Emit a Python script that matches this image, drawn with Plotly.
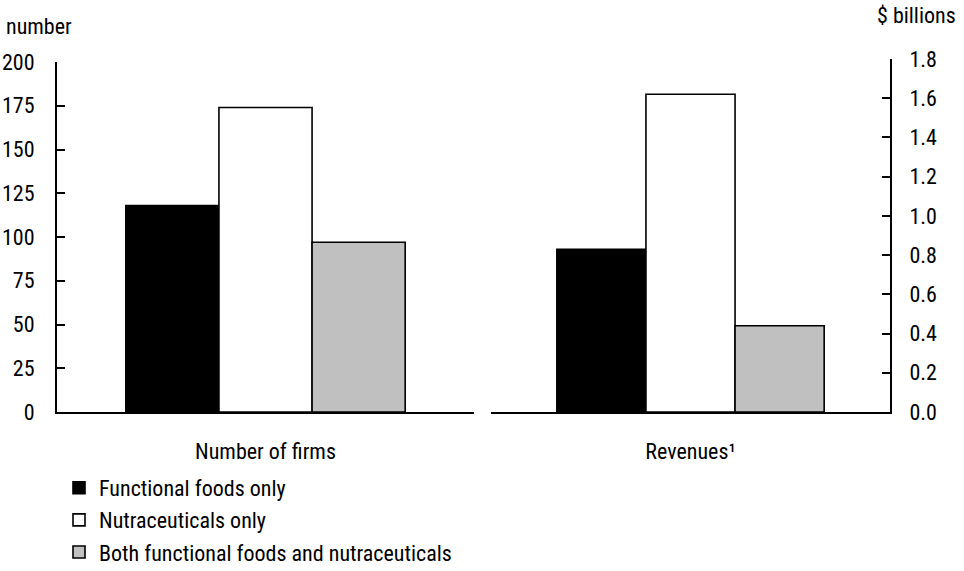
import plotly.graph_objects as go

# Data
series_names = ["Functional foods only", "Nutraceuticals only",
                "Both functional foods and nutraceuticals"]
series_colors = ["#000000", "#ffffff", "#c0c0c0"]
firm_categories = ["Number of firms"]
revenue_categories = ["Revenues¹"]
firm_counts = [118, 174, 97]          # number
revenue_values = [0.83, 1.62, 0.44]   # $ billions

left_ticks = [0, 25, 50, 75, 100, 125, 150, 175, 200]
right_ticks = [0.0, 0.2, 0.4, 0.6, 0.8, 1.0, 1.2, 1.4, 1.6, 1.8]

FONT = "Roboto Condensed, Roboto, sans-serif"
FS = 22

fig = go.Figure()
for i, name in enumerate(series_names):
    fig.add_trace(go.Bar(
        x=firm_categories, y=[firm_counts[i]], name=name,
        marker=dict(color=series_colors[i], line=dict(color="#000000", width=1.6)),
        legendgroup=f"g{i}", showlegend=True, xaxis="x", yaxis="y",
    ))
for i, name in enumerate(series_names):
    fig.add_trace(go.Bar(
        x=revenue_categories, y=[revenue_values[i]], name=name,
        marker=dict(color=series_colors[i], line=dict(color="#000000", width=1.6)),
        legendgroup=f"g{i}", showlegend=False, xaxis="x2", yaxis="y2",
    ))

W, H = 964, 571
ML, MR, MT, MB = 57, 74, 59, 159
pw, ph = W - ML - MR, H - MT - MB


def px_x(p):
    return (p - ML) / pw


def px_y(p):
    return (H - MB - p) / ph


xcommon = dict(showline=True, linecolor="#000000", linewidth=2, ticks="",
               showgrid=False, zeroline=False, ticklabelstandoff=19,
               tickfont=dict(family=FONT, size=FS, color="#000000"), fixedrange=True)
ycommon = dict(showline=True, linecolor="#000000", linewidth=2, ticks="inside",
               ticklen=8, tickwidth=2, tickcolor="#000000", showgrid=False,
               zeroline=False,
               tickfont=dict(family=FONT, size=FS, color="#000000"))

fig.update_layout(
    width=W, height=H,
    margin=dict(l=ML, r=MR, t=MT, b=MB, autoexpand=False),
    paper_bgcolor="white", plot_bgcolor="white",
    barmode="group", bargap=0.33, bargroupgap=0,
    font=dict(family=FONT, size=FS, color="#000000"),
    xaxis=dict(domain=[0, px_x(474)], anchor="y", **xcommon),
    xaxis2=dict(domain=[px_x(491), 1], anchor="y2", **xcommon),
    yaxis=dict(domain=[0, px_y(62)], anchor="x", range=[0, 200], ticklabelstandoff=16,
               tickvals=left_ticks, ticktext=[str(v) for v in left_ticks], **ycommon),
    yaxis2=dict(domain=[0, 1], anchor="x2", side="right", range=[0, 1.8],
                ticklabelstandoff=13,
                tickvals=right_ticks, ticktext=[f"{v:.1f}" for v in right_ticks], **ycommon),
    legend=dict(x=px_x(59), y=px_y(467), xanchor="left", yanchor="top",
                orientation="v", tracegroupgap=0.5, bgcolor="rgba(0,0,0,0)",
                font=dict(family=FONT, size=FS, color="#000000")),
    annotations=[
        dict(text="number", xref="paper", yref="paper", x=px_x(4), y=px_y(26),
             xanchor="left", yanchor="middle", showarrow=False,
             font=dict(family=FONT, size=FS, color="#000000")),
        dict(text="$ billions", xref="paper", yref="paper", x=px_x(958), y=px_y(16),
             xanchor="right", yanchor="middle", showarrow=False,
             font=dict(family=FONT, size=FS, color="#000000")),
    ],
)

fig.write_html("out.html")
